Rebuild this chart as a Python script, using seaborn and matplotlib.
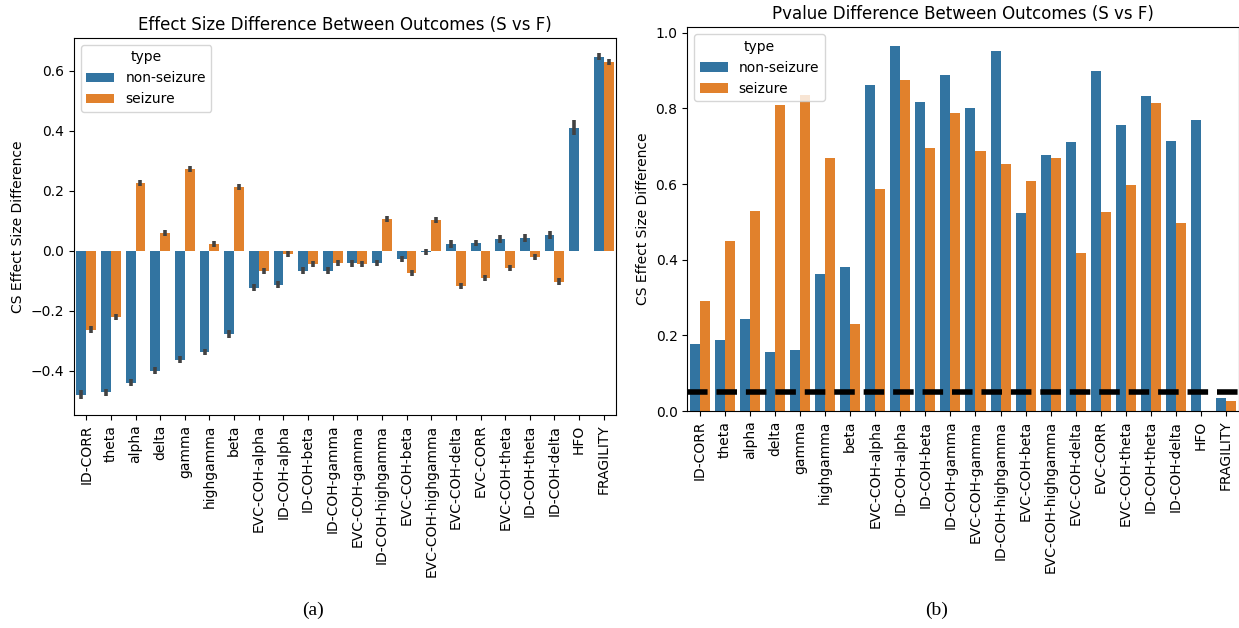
import numpy as np
import pandas as pd
import matplotlib
matplotlib.use("Agg")
import matplotlib.pyplot as plt
import seaborn as sns

features = ["ID-CORR", "theta", "alpha", "delta", "gamma", "highgamma", "beta",
            "EVC-COH-alpha", "ID-COH-alpha", "ID-COH-beta", "ID-COH-gamma",
            "EVC-COH-gamma", "ID-COH-highgamma", "EVC-COH-beta", "EVC-COH-highgamma",
            "EVC-COH-delta", "EVC-CORR", "EVC-COH-theta", "ID-COH-theta",
            "ID-COH-delta", "HFO", "FRAGILITY"]
types = ["non-seizure", "seizure"]

# Panel (a): effect size differences
effect_nonseizure = [-0.481, -0.473, -0.440, -0.400, -0.364, -0.337, -0.278,
                     -0.123, -0.114, -0.067, -0.067, -0.042, -0.042, -0.027,
                     -0.003, 0.022, 0.026, 0.039, 0.042, 0.052, 0.409, 0.646]
effect_seizure = [-0.264, -0.220, 0.226, 0.058, 0.272, 0.022, 0.211,
                  -0.067, -0.011, -0.044, -0.042, -0.045, 0.106, -0.073,
                  0.102, -0.117, -0.090, -0.057, -0.020, -0.103, np.nan, 0.629]
err_nonseizure = [0.015, 0.012, 0.012, 0.012, 0.012, 0.010, 0.012,
                  0.013, 0.012, 0.012, 0.012, 0.012, 0.010, 0.010,
                  0.010, 0.012, 0.010, 0.012, 0.012, 0.014, 0.025, 0.012]
err_seizure = [0.012, 0.010, 0.010, 0.010, 0.010, 0.010, 0.010,
               0.010, 0.010, 0.010, 0.010, 0.010, 0.010, 0.010,
               0.010, 0.010, 0.010, 0.010, 0.010, 0.012, np.nan, 0.010]

# Panel (b): p-values
pval_nonseizure = [0.177, 0.188, 0.244, 0.156, 0.162, 0.363, 0.381,
                   0.863, 0.966, 0.818, 0.887, 0.802, 0.953, 0.524,
                   0.678, 0.710, 0.900, 0.755, 0.834, 0.715, 0.768, 0.034]
pval_seizure = [0.291, 0.450, 0.530, 0.810, 0.836, 0.670, 0.230,
                0.588, 0.874, 0.694, 0.789, 0.688, 0.654, 0.609,
                0.670, 0.418, 0.527, 0.598, 0.813, 0.498, np.nan, 0.026]
alpha_level = 0.05

def long_df(a, b):
    return pd.DataFrame({
        "feature": features + features,
        "type": [types[0]] * len(features) + [types[1]] * len(features),
        "value": list(a) + list(b),
    })

df_a = long_df(effect_nonseizure, effect_seizure)
df_b = long_df(pval_nonseizure, pval_seizure)
errs = {types[0]: err_nonseizure, types[1]: err_seizure}

fig = plt.figure(figsize=(12.39, 6.28), dpi=100)
ax1 = fig.add_axes([0.0597, 0.3392, 0.4375, 0.6003])
ax2 = fig.add_axes([0.5547, 0.3455, 0.4450, 0.6110])

sns.barplot(data=df_a, x="feature", y="value", hue="type", order=features,
            hue_order=types, errorbar=None, ax=ax1)
for cont, t in zip(ax1.containers, types):
    xs, ys, es = [], [], []
    for p in cont.patches:
        xc = p.get_x() + p.get_width() / 2
        idx = int(round(xc))
        xs.append(xc)
        ys.append(p.get_y() + p.get_height())
        es.append(errs[t][idx])
    ax1.errorbar(xs, ys, yerr=es, fmt="none", ecolor=".26", elinewidth=2.6,
                 capsize=0, zorder=3)
ax1.set_xlim(-0.5, len(features) - 0.5)
ax1.set_ylim(-0.548, 0.709)
ax1.set_title("Effect Size Difference Between Outcomes (S vs F)", fontsize=12)
ax1.set_xlabel("")
ax1.set_ylabel("CS Effect Size Difference", fontsize=10)
ax1.tick_params(axis="x", labelrotation=90)
sns.move_legend(ax1, "upper left", title="type")

sns.barplot(data=df_b, x="feature", y="value", hue="type", order=features,
            hue_order=types, errorbar=None, ax=ax2)
ax2.axhline(alpha_level, color="black", linestyle="--", linewidth=4, zorder=4)
ax2.set_xlim(-0.5, len(features) - 0.5)
ax2.set_title("Pvalue Difference Between Outcomes (S vs F)", fontsize=12)
ax2.set_xlabel("")
ax2.set_ylabel("CS Effect Size Difference", fontsize=10)
ax2.tick_params(axis="x", labelrotation=90)
sns.move_legend(ax2, "upper left", title="type")

fig.text(313 / 1239, 1 - 610 / 628, "(a)", family="Liberation Serif",
         fontsize=14, ha="center", va="center")
fig.text(937 / 1239, 1 - 610 / 628, "(b)", family="Liberation Serif",
         fontsize=14, ha="center", va="center")

fig.savefig("out.png", dpi=100)
